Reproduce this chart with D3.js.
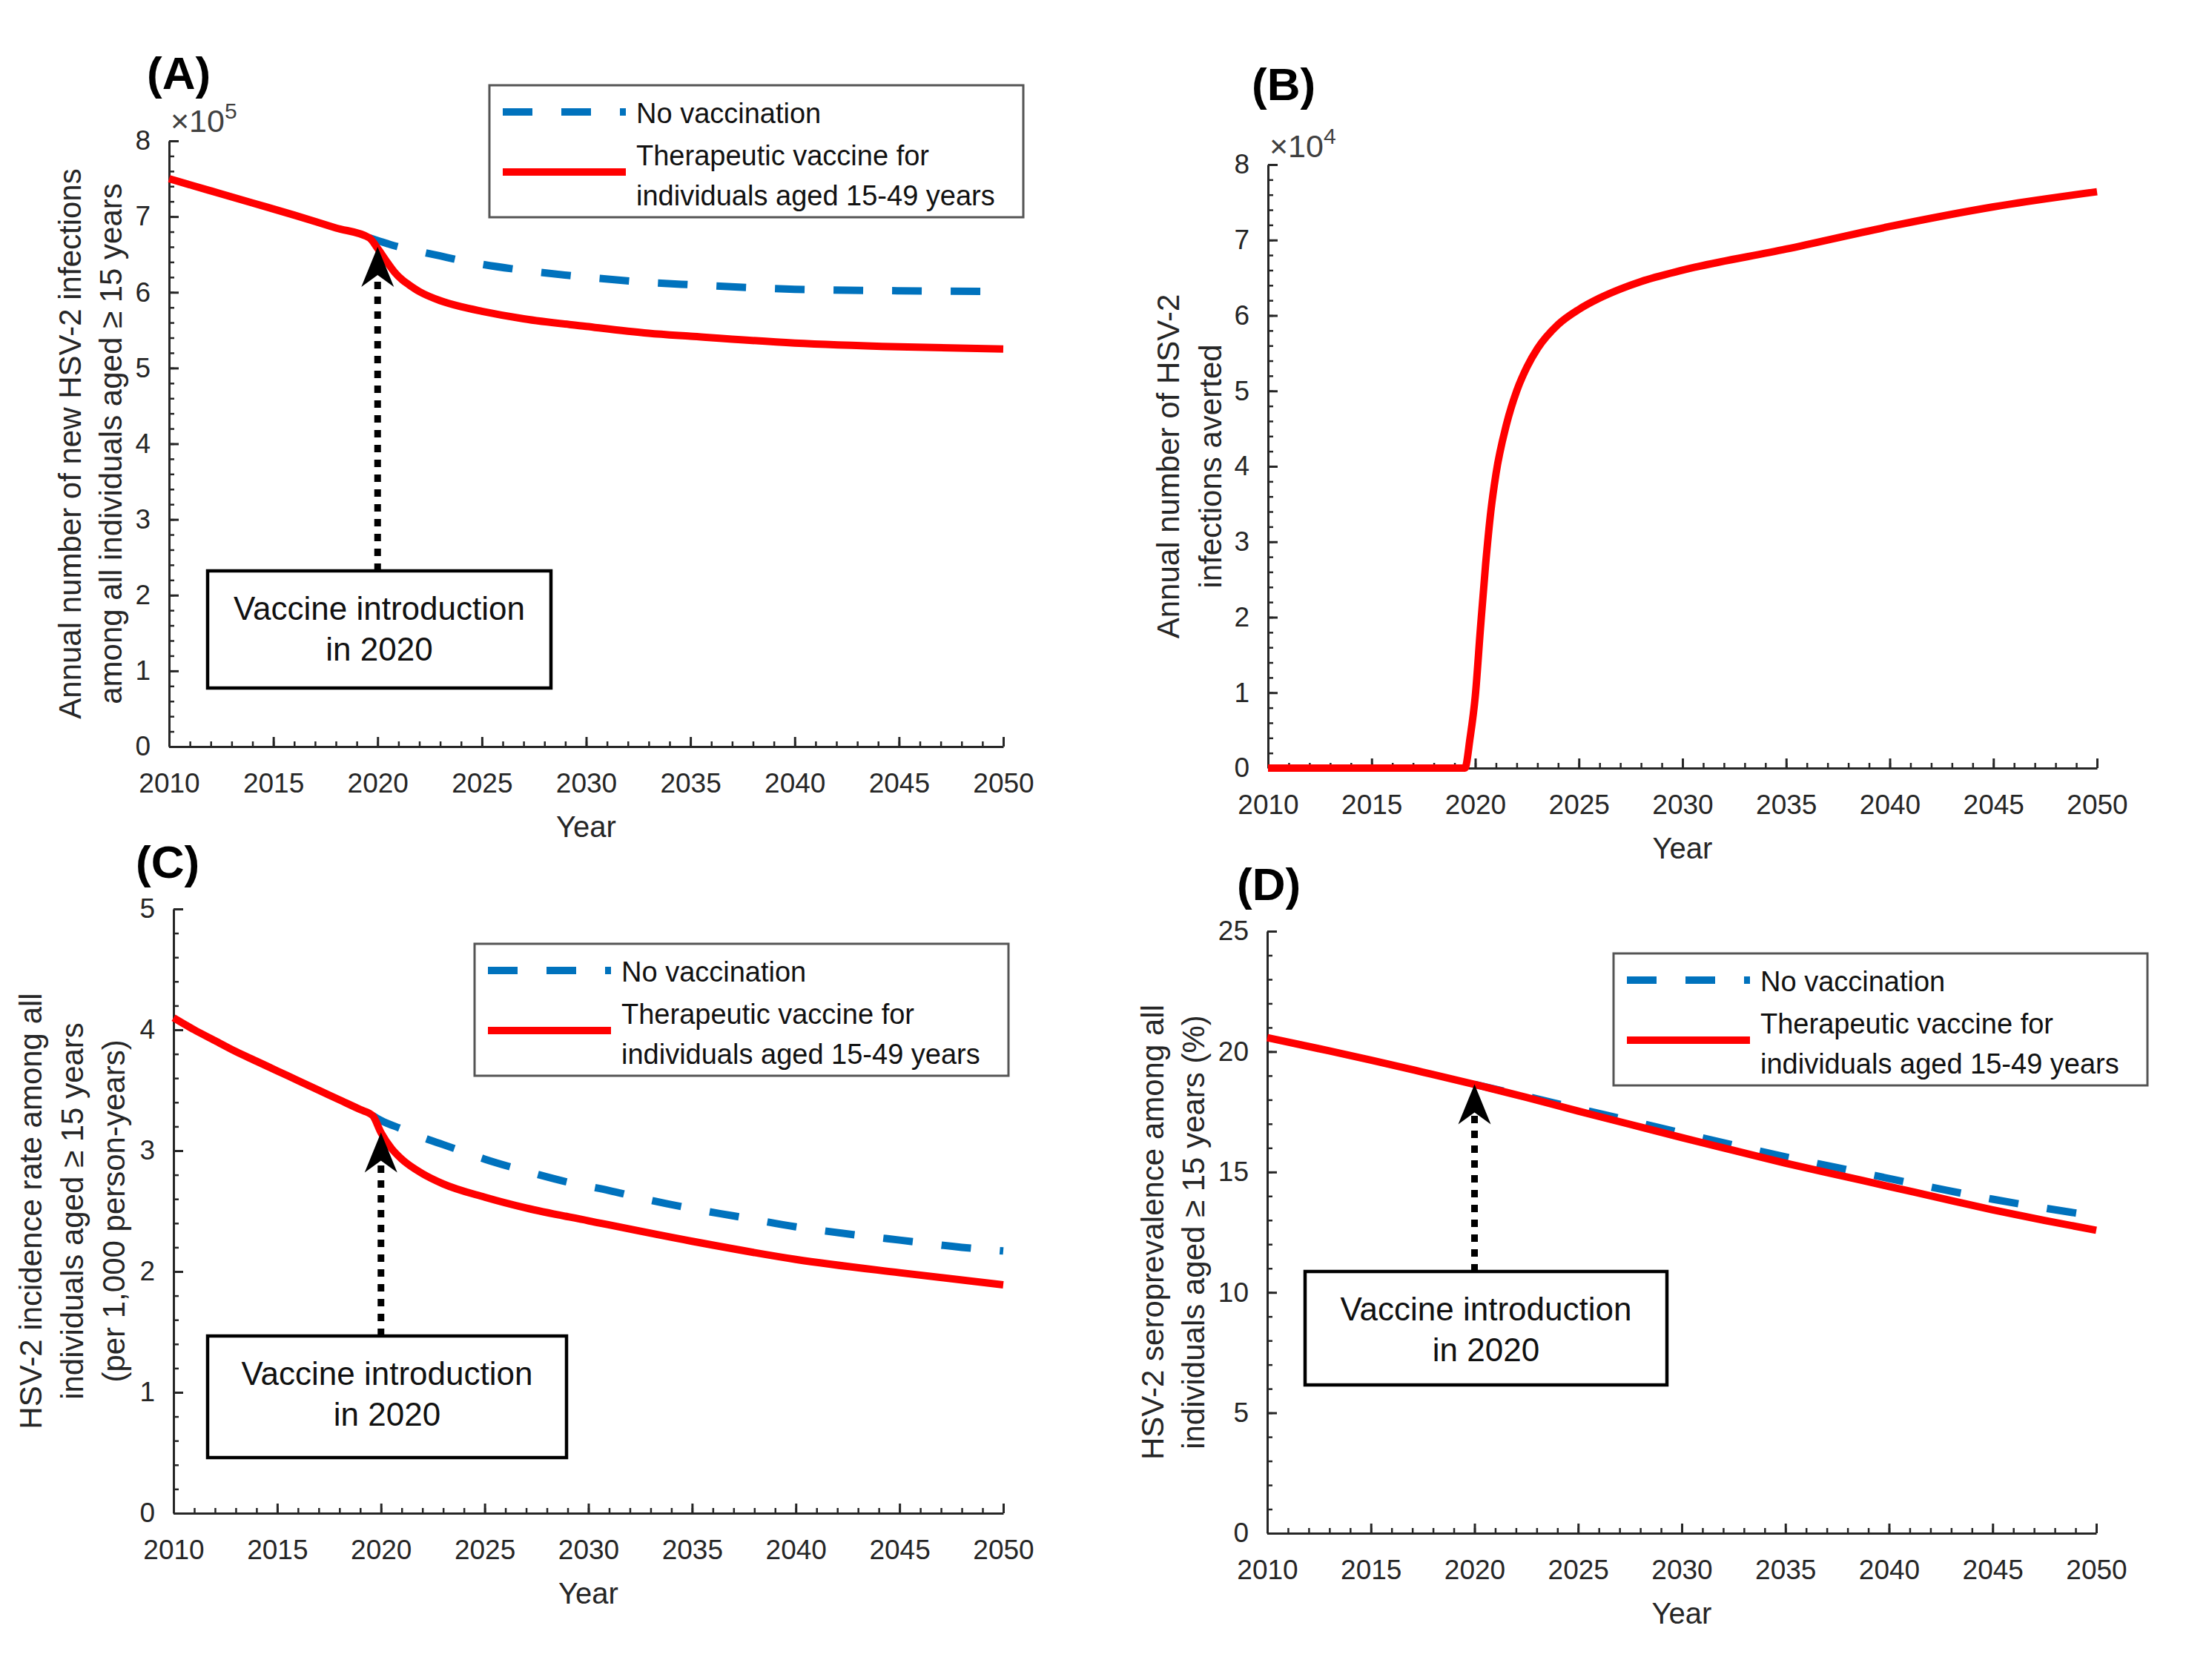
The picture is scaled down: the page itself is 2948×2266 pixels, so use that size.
<!DOCTYPE html>
<html>
<head>
<meta charset="utf-8">
<script src="https://cdn.jsdelivr.net/npm/d3@7"></script>
<style>
  body { margin: 0; background: #ffffff; }
  text { font-family: "Liberation Sans", Arial, Helvetica, sans-serif; }
</style>
</head>
<body>
<svg id="chart"></svg>
<script>
// ---------------- DATA ----------------
const xTickYears = [2010, 2015, 2020, 2025, 2030, 2035, 2040, 2045, 2050];
const minorYears = d3.range(2010, 2051, 1);

const legendLabels = ["No vaccination", "Therapeutic vaccine for", "individuals aged 15-49 years"];
const boxLabels = ["Vaccine introduction", "in 2020"];

// Panel A: annual new HSV-2 infections (x 10^5)
const aTicks = [0, 1, 2, 3, 4, 5, 6, 7, 8];
const aVaccYears = [2010, 2012, 2014, 2016, 2018, 2019.6, 2020, 2020.4, 2020.8, 2021.2, 2021.5, 2022, 2023, 2024, 2025, 2027, 2030, 2033, 2035, 2040, 2045, 2050];
const aVacc      = [7.50, 7.34, 7.18, 7.02, 6.85, 6.72, 6.58, 6.42, 6.27, 6.16, 6.10, 6.01, 5.89, 5.81, 5.75, 5.65, 5.55, 5.46, 5.42, 5.33, 5.28, 5.25];
const aNoVaccYears = [2019.6, 2020.5, 2021, 2022, 2023, 2024, 2025, 2027, 2030, 2033, 2035, 2040, 2045, 2050];
const aNoVacc      = [6.72, 6.64, 6.60, 6.54, 6.48, 6.42, 6.37, 6.29, 6.20, 6.13, 6.10, 6.04, 6.02, 6.01];
const aArrowTip = 6.60;

// Panel B: infections averted (x 10^4)
const bTicks = [0, 1, 2, 3, 4, 5, 6, 7, 8];
const bYears = [2010, 2015, 2019.5, 2019.75, 2020, 2020.25, 2020.5, 2020.75, 2021, 2021.5, 2022, 2022.5, 2023, 2024, 2025, 2026, 2027, 2028, 2030, 2035, 2040, 2045, 2050];
const bAverted = [0, 0, 0, 0.4, 0.95, 1.85, 2.7, 3.4, 3.9, 4.55, 5.0, 5.32, 5.56, 5.88, 6.08, 6.23, 6.35, 6.45, 6.6, 6.88, 7.18, 7.44, 7.64];

// Panel C: incidence rate per 1,000 person-years
const cTicks = [0, 1, 2, 3, 4, 5];
const cVaccYears = [2010, 2011, 2012, 2013, 2014, 2015, 2016, 2017, 2018, 2019, 2019.6, 2020, 2020.5, 2021, 2022, 2023, 2025, 2027, 2030, 2035, 2040, 2045, 2050];
const cVacc      = [4.10, 4.00, 3.91, 3.82, 3.74, 3.66, 3.58, 3.50, 3.42, 3.34, 3.29, 3.15, 3.02, 2.93, 2.81, 2.725, 2.615, 2.525, 2.42, 2.25, 2.10, 1.99, 1.89];
const cNoVaccYears = [2019.6, 2020, 2021, 2022, 2023, 2024, 2025, 2027, 2029, 2031, 2033, 2035, 2037, 2040, 2043, 2045, 2048, 2050];
const cNoVacc      = [3.29, 3.25, 3.18, 3.11, 3.05, 2.99, 2.93, 2.83, 2.74, 2.67, 2.59, 2.52, 2.46, 2.37, 2.30, 2.26, 2.20, 2.17];
const cArrowTip = 3.15;

// Panel D: seroprevalence (%)
const dTicks = [0, 5, 10, 15, 20, 25];
const dVaccYears = [2010, 2012.5, 2015, 2017.5, 2020, 2022.5, 2025, 2027.5, 2030, 2032.5, 2035, 2037.5, 2040, 2042.5, 2045, 2047.5, 2050];
const dVacc      = [20.58, 20.12, 19.65, 19.15, 18.64, 18.10, 17.53, 16.98, 16.43, 15.90, 15.37, 14.88, 14.40, 13.91, 13.43, 12.99, 12.58];
const dNoVaccYears = [2020, 2022.5, 2025, 2027.5, 2030, 2032.5, 2035, 2037.5, 2040, 2042.5, 2045, 2047.5, 2050];
const dNoVacc      = [18.64, 18.14, 17.63, 17.13, 16.62, 16.12, 15.63, 15.18, 14.73, 14.29, 13.87, 13.50, 13.17];
const dArrowTip = 18.64;

// ---------------- DRAW ----------------
const W = 2948, H = 2266;
const svg = d3.select("#chart").attr("width", W).attr("height", H);
svg.append("rect").attr("width", W).attr("height", H).attr("fill", "#ffffff");

const AX = "#262626";
const BLUE = "#0072BD", RED = "#FF0000";
const zip = (xs, ys) => xs.map((v, i) => [v, ys[i]]);

function drawPanel(cfg) {
  const g = svg.append("g").attr("transform", `translate(${cfg.left},${cfg.top})`);
  const x = d3.scaleLinear().domain([2010, 2050]).range([0, cfg.w]);
  const y = d3.scaleLinear().domain([0, cfg.ymax]).range([cfg.h, 0]);

  // minor ticks
  g.append("g").attr("transform", `translate(0,${cfg.h})`)
    .call(d3.axisBottom(x).tickValues(minorYears).tickSize(-7).tickSizeOuter(0).tickFormat(""))
    .call(s => s.select(".domain").remove())
    .call(s => s.selectAll("line").attr("stroke", AX).attr("stroke-width", 2.5));
  const minorY = d3.range(0, cfg.ymax + 1e-9, cfg.minorStep);
  g.append("g")
    .call(d3.axisLeft(y).tickValues(minorY).tickSize(-7).tickSizeOuter(0).tickFormat(""))
    .call(s => s.select(".domain").remove())
    .call(s => s.selectAll("line").attr("stroke", AX).attr("stroke-width", 2.5));

  // major axes
  const xa = g.append("g").attr("transform", `translate(0,${cfg.h})`)
    .call(d3.axisBottom(x).tickValues(xTickYears).tickSize(-13).tickSizeOuter(0).tickPadding(36).tickFormat(d3.format("d")));
  const ya = g.append("g")
    .call(d3.axisLeft(y).tickValues(cfg.ticks).tickSize(-13).tickSizeOuter(0).tickPadding(25).tickFormat(d3.format("d")));
  [xa, ya].forEach(a => {
    a.select(".domain").attr("stroke", AX).attr("stroke-width", 3);
    a.selectAll(".tick line").attr("stroke", AX).attr("stroke-width", 3);
    a.selectAll(".tick text").attr("fill", AX).style("font-size", "37px")
      .style("font-family", '"Liberation Sans", Arial, sans-serif');
  });

  // axis labels
  g.append("text").attr("x", cfg.w / 2).attr("y", cfg.h + 122)
    .attr("text-anchor", "middle").attr("fill", AX).style("font-size", "40px").text("Year");
  cfg.ylabel.forEach((line, i) => {
    g.append("text")
      .attr("transform", `translate(${cfg.ylabelX[i]},${cfg.h / 2}) rotate(-90)`)
      .attr("text-anchor", "middle").attr("dominant-baseline", "central")
      .attr("fill", AX).style("font-size", "42px").text(line);
  });

  // panel letter
  g.append("text").attr("x", cfg.letterPos[0]).attr("y", cfg.letterPos[1])
    .attr("fill", "#000").style("font-size", "62px").style("font-weight", "bold").text(cfg.letter);

  // exponent
  if (cfg.exp) {
    const t = g.append("text").attr("x", 2).attr("y", cfg.expY).attr("fill", "#404040").style("font-size", "43px");
    t.append("tspan").text("\u00D710");
    t.append("tspan").attr("dy", -18).style("font-size", "30px").text(cfg.exp);
  }

  // lines
  const line = d3.line().x(d => x(d[0])).y(d => y(d[1])).curve(d3.curveMonotoneX);
  if (cfg.blue) {
    g.append("path").datum(cfg.blue).attr("d", line).attr("fill", "none")
      .attr("stroke", BLUE).attr("stroke-width", 10).attr("stroke-dasharray", "40,39");
  }
  g.append("path").datum(cfg.red).attr("d", line).attr("fill", "none")
    .attr("stroke", RED).attr("stroke-width", 10).attr("stroke-linejoin", "round");

  // legend
  if (cfg.legend) {
    const [lx, ly] = cfg.legend;
    const lg = g.append("g").attr("transform", `translate(${lx},${ly})`);
    lg.append("rect").attr("width", 720).attr("height", 178).attr("fill", "#fff")
      .attr("stroke", "#555").attr("stroke-width", 3);
    lg.append("line").attr("x1", 18).attr("x2", 184).attr("y1", 36).attr("y2", 36)
      .attr("stroke", BLUE).attr("stroke-width", 10).attr("stroke-dasharray", "40,39");
    lg.append("line").attr("x1", 18).attr("x2", 184).attr("y1", 117).attr("y2", 117)
      .attr("stroke", RED).attr("stroke-width", 10);
    [38, 95, 149].forEach((yy, i) => {
      lg.append("text").attr("x", 198).attr("y", yy).attr("dominant-baseline", "central")
        .attr("fill", "#111").style("font-size", "38px").text(legendLabels[i]);
    });
  }

  // annotation
  if (cfg.box) {
    const [bx, by, bw, bh] = cfg.box;
    const ax = x(2020), tip = y(cfg.tip);
    g.append("line").attr("x1", ax).attr("x2", ax).attr("y1", by).attr("y2", tip + 40)
      .attr("stroke", "#000").attr("stroke-width", 9).attr("stroke-dasharray", "10,10");
    g.append("path")
      .attr("d", `M${ax},${tip} L${ax - 22},${tip + 54} L${ax},${tip + 38} L${ax + 22},${tip + 54} Z`)
      .attr("fill", "#000");
    g.append("rect").attr("x", bx).attr("y", by).attr("width", bw).attr("height", bh)
      .attr("fill", "#fff").attr("stroke", "#000").attr("stroke-width", 4.5);
    [50, 105].forEach((dy, i) => {
      g.append("text").attr("x", bx + bw / 2).attr("y", by + dy).attr("text-anchor", "middle")
        .attr("dominant-baseline", "central").attr("fill", "#111").style("font-size", "44px").text(boxLabels[i]);
    });
  }
}

drawPanel({
  left: 228, top: 190, w: 1125, h: 817, ymax: 8, ticks: aTicks, minorStep: 0.2,
  letter: "(A)", letterPos: [-30, -70], exp: "5", expY: -12,
  ylabel: ["Annual number of new HSV-2 infections", "among all individuals aged \u2265 15 years"],
  ylabelX: [-134, -79],
  red: zip(aVaccYears, aVacc), blue: zip(aNoVaccYears, aNoVacc),
  legend: [432, -75], box: [52, 580, 463, 158], tip: aArrowTip
});

drawPanel({
  left: 1710, top: 222, w: 1118, h: 814, ymax: 8, ticks: bTicks, minorStep: 0.2,
  letter: "(B)", letterPos: [-22, -87], exp: "4", expY: -10,
  ylabel: ["Annual number of HSV-2", "infections averted"],
  ylabelX: [-135, -78],
  red: zip(bYears, bAverted)
});

drawPanel({
  left: 234, top: 1226, w: 1119, h: 815, ymax: 5, ticks: cTicks, minorStep: 0.2,
  letter: "(C)", letterPos: [-51, -42],
  ylabel: ["HSV-2 incidence rate among all", "individuals aged \u2265 15 years", "(per 1,000 person-years)"],
  ylabelX: [-193, -137, -81],
  red: zip(cVaccYears, cVacc), blue: zip(cNoVaccYears, cNoVacc),
  legend: [406, 47], box: [46, 576, 484, 164], tip: cArrowTip
});

drawPanel({
  left: 1709, top: 1256, w: 1118, h: 812, ymax: 25, ticks: dTicks, minorStep: 1,
  letter: "(D)", letterPos: [-41, -42],
  ylabel: ["HSV-2 seroprevalence among all", "individuals aged \u2265 15 years (%)"],
  ylabelX: [-155, -100],
  red: zip(dVaccYears, dVacc), blue: zip(dNoVaccYears, dNoVacc),
  legend: [467, 30], box: [51, 459, 488, 153], tip: dArrowTip
});
</script>
</body>
</html>
